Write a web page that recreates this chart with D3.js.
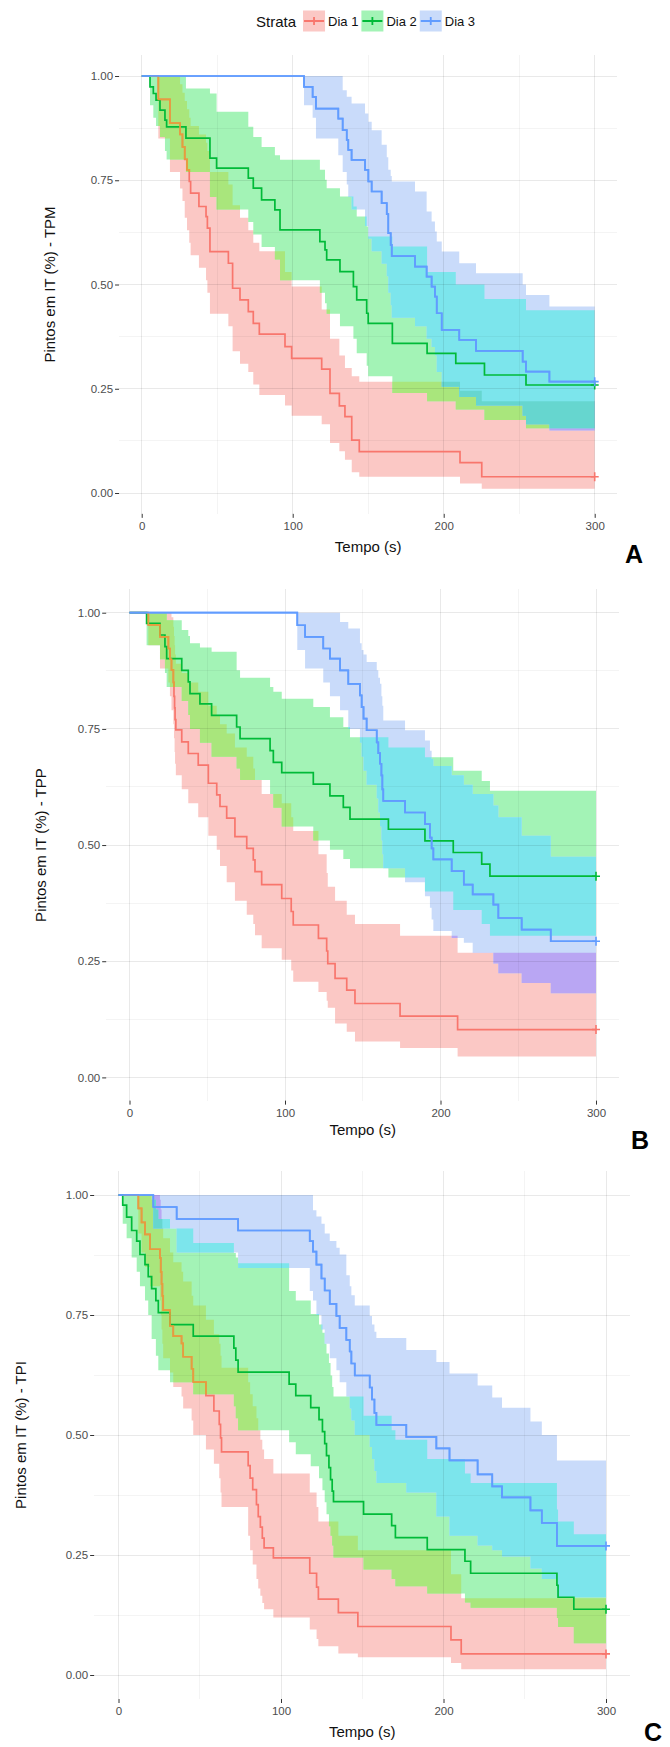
<!DOCTYPE html>
<html>
<head>
<meta charset="utf-8">
<script src="https://cdn.jsdelivr.net/npm/d3@7"></script>
<style>
  body { margin: 0; background: #fff; }
  svg { display: block; font-family: "Liberation Sans", Arial, sans-serif; }
</style>
</head>
<body>
<div id="chart"></div>
<script>
// ---- data ----
const strata = ["Dia 1", "Dia 2", "Dia 3"];
const xTicks = [0, 100, 200, 300];
const xMinor = [50, 150, 250];
const yTicks = [0, 0.25, 0.5, 0.75, 1];
const yMinor = [0.125, 0.375, 0.625, 0.875];

// panel A - TPM
const tpmDia1Time = [11.0, 18.7, 25.4, 27.0, 28.5, 30.0, 31.5, 32.4, 37.9, 42.6, 43.5, 45.2, 57.4, 60.2, 65.1, 70.6, 73.9, 77.9, 94.9, 99.3, 119.2, 124.7, 130.9, 134.6, 139.1, 144.1, 210.8, 225.2];
const tpmDia1Surv = [.944, .887, .860, .830, .800, .775, .747, .719, .687, .663, .635, .579, .551, .491, .463, .435, .407, .381, .351, .323, .297, .239, .209, .183, .127, .099, .073, .039];
const tpmDia1Lower = [.85, .77, .73, .70, .66, .63, .60, .57, .54, .51, .48, .43, .40, .34, .31, .29, .26, .235, .21, .185, .165, .12, .10, .08, .05, .039, .023, .01];
const tpmDia1Upper = [1, 1, .98, .96, .94, .92, .90, .88, .86, .84, .82, .77, .74, .69, .66, .63, .60, .58, .53, .495, .44, .37, .33, .30, .28, .267, .245, .22];

const tpmDia2Time = [5.5, 7.7, 9.5, 12.1, 15.4, 16.5, 29.3, 45.2, 49.6, 70.6, 73.9, 79.4, 88.2, 91.6, 118.0, 121.4, 122.5, 131.3, 140.2, 142.4, 149.0, 150.0, 166.0, 189.0, 208.0, 227.0, 254.5];
const tpmDia2Surv = [.974, .958, .942, .918, .894, .878, .851, .803, .779, .755, .731, .703, .679, .631, .603, .583, .559, .531, .495, .463, .431, .407, .359, .335, .311, .283, .259];
const tpmDia2Lower = [.93, .90, .88, .854, .82, .80, .77, .71, .68, .65, .62, .59, .56, .51, .48, .455, .43, .40, .37, .335, .305, .28, .24, .22, .20, .175, .155];
const tpmDia2Upper = [1, 1, 1, 1, 1, 1, .970, .958, .914, .878, .854, .830, .810, .799, .775, .751, .731, .711, .687, .663, .639, .615, .591, .530, .500, .465, .438];

const tpmDia3Time = [107.5, 113.2, 115.4, 130.2, 133.1, 135.8, 136.8, 139.0, 147.9, 150.1, 152.3, 158.9, 162.3, 163.3, 164.9, 165.6, 181.0, 188.7, 192.0, 194.2, 195.4, 198.7, 210.3, 221.4, 252.3, 254.5, 270.0];
const tpmDia3Surv = [.974, .950, .922, .898, .870, .847, .823, .799, .775, .747, .723, .695, .669, .623, .595, .568, .543, .519, .495, .471, .431, .391, .367, .341, .315, .291, .267];
const tpmDia3Lower = [.93, .90, .85, .81, .77, .74, .71, .68, .64, .61, .58, .55, .52, .48, .45, .42, .40, .37, .35, .33, .29, .255, .23, .21, .185, .165, .15];
const tpmDia3Upper = [1, 1, 1, 1, .966, .950, .950, .934, .910, .890, .870, .835, .805, .775, .760, .747, .723, .675, .651, .627, .603, .579, .551, .527, .500, .475, .447];

// panel B - TPP
const tppDia1Time = [12.1, 19.6, 25.0, 26.0, 27.0, 28.2, 28.6, 29.0, 29.3, 29.8, 33.6, 37.8, 44.2, 50.7, 56.1, 58.2, 62.5, 67.8, 75.4, 79.6, 80.7, 85.0, 97.9, 104.0, 105.3, 121.5, 126.8, 127.5, 132.2, 139.7, 145.0, 174.0, 211.0];
const tppDia1Surv = [.974, .948, .923, .900, .877, .850, .820, .795, .770, .748, .722, .697, .672, .633, .608, .583, .558, .518, .493, .468, .443, .415, .385, .357, .328, .299, .272, .245, .213, .188, .159, .132, .103];
const tppDia1Lower = [.93, .88, .85, .82, .79, .76, .73, .70, .675, .65, .62, .59, .56, .52, .49, .455, .42, .38, .35, .33, .306, .278, .253, .23, .206, .184, .165, .15, .116, .098, .077, .063, .045];
const tppDia1Upper = [1, 1, 1, 1, .99, .97, .95, .93, .91, .89, .87, .85, .83, .80, .78, .76, .74, .71, .69, .665, .64, .61, .59, .56, .53, .48, .44, .41, .38, .35, .33, .305, .268];

const tppDia2Time = [11.0, 19.6, 22.8, 23.9, 33.6, 37.8, 38.9, 45.3, 52.8, 68.9, 71.1, 90.4, 92.5, 97.9, 118.2, 128.9, 137.5, 141.8, 166.5, 190.0, 208.2, 226.5, 231.8];
const tppDia2Surv = [.977, .952, .927, .901, .876, .851, .826, .804, .779, .754, .729, .703, .678, .656, .631, .606, .581, .556, .534, .509, .484, .459, .433];
const tppDia2Lower = [.93, .90, .87, .84, .81, .78, .75, .72, .69, .665, .64, .61, .58, .54, .51, .49, .47, .45, .43, .40, .36, .33, .305];
const tppDia2Upper = [1, 1, 1, .984, .963, .950, .934, .925, .916, .876, .860, .840, .830, .815, .797, .775, .754, .732, .710, .689, .660, .638, .617];

const tppDia3Time = [107.9, 112.9, 124.6, 128.9, 135.4, 140.7, 148.2, 149.3, 150.5, 152.5, 159.0, 160.0, 161.1, 162.0, 162.6, 163.2, 177.2, 190.0, 193.2, 194.3, 195.4, 207.2, 215.0, 220.7, 234.0, 237.2, 252.2, 270.9];
const tppDia3Surv = [.973, .948, .923, .901, .876, .847, .822, .797, .772, .747, .721, .698, .675, .650, .620, .595, .570, .545, .516, .493, .469, .444, .415, .394, .372, .343, .318, .293];
const tppDia3Lower = [.92, .88, .85, .82, .79, .75, .72, .69, .66, .63, .60, .57, .54, .51, .48, .45, .42, .39, .365, .34, .315, .30, .29, .268, .245, .224, .203, .181];
const tppDia3Upper = [1, 1, 1, 1, .980, .966, .934, .920, .910, .894, .876, .860, .847, .820, .800, .768, .747, .725, .703, .685, .670, .650, .630, .610, .585, .560, .520, .475];

// panel C - TPI
const tpiDia1Time = [12.2, 14.2, 16.3, 19.4, 25.5, 26.0, 26.5, 27.0, 27.5, 31.7, 33.7, 38.8, 39.8, 45.0, 46.0, 53.8, 58.7, 62.0, 62.8, 63.4, 79.8, 81.0, 82.6, 84.9, 86.0, 87.3, 88.5, 89.6, 95.3, 117.7, 121.9, 123.0, 135.3, 147.3, 204.6, 210.9];
const tpiDia1Surv = [.972, .943, .918, .887, .869, .840, .815, .790, .760, .727, .706, .691, .663, .638, .610, .582, .550, .522, .494, .465, .436, .410, .386, .355, .330, .308, .285, .265, .244, .212, .183, .158, .130, .101, .073, .044];
const tpiDia1Lower = [.92, .88, .85, .81, .78, .75, .72, .69, .66, .63, .60, .58, .555, .53, .50, .47, .44, .41, .38, .35, .29, .26, .23, .20, .18, .165, .15, .137, .12, .095, .075, .06, .045, .037, .025, .012];
const tpiDia1Upper = [1, 1, 1, 1, .99, .97, .95, .93, .91, .88, .86, .84, .82, .79, .77, .74, .71, .69, .665, .64, .61, .585, .56, .535, .51, .49, .47, .45, .42, .38, .35, .32, .29, .26, .21, .16];

const tpiDia2Time = [2.6, 5.0, 8.1, 11.2, 13.2, 16.3, 18.3, 20.4, 23.0, 24.5, 31.7, 46.0, 71.0, 72.2, 73.6, 105.0, 109.1, 118.3, 123.4, 125.5, 126.9, 128.0, 129.5, 130.5, 131.5, 132.3, 150.8, 168.1, 170.4, 190.0, 213.2, 216.7, 269.8, 270.5, 280.2];
const tpiDia2Surv = [.979, .954, .926, .904, .876, .855, .830, .805, .780, .755, .730, .706, .681, .656, .631, .606, .582, .557, .532, .507, .482, .457, .432, .407, .383, .361, .335, .311, .286, .261, .237, .212, .187, .162, .137];
const tpiDia2Lower = [.94, .91, .87, .84, .81, .78, .75, .70, .665, .635, .61, .585, .56, .535, .51, .485, .46, .435, .41, .385, .36, .335, .31, .29, .27, .245, .22, .20, .185, .17, .151, .14, .119, .10, .066];
const tpiDia2Upper = [1, 1, 1, 1, 1, 1, 1, .99, .97, .95, .93, .90, .879, .87, .858, .80, .78, .752, .73, .713, .69, .67, .65, .624, .60, .58, .54, .51, .49, .45, .42, .40, .345, .32, .293];

const tpiDia3Time = [21.4, 35.8, 73.6, 117.7, 119.7, 121.8, 124.9, 126.9, 130.0, 134.1, 136.1, 140.2, 142.3, 143.3, 145.4, 154.6, 156.0, 157.5, 158.7, 177.1, 195.6, 203.7, 221.0, 230.0, 236.0, 253.5, 260.5, 269.8];
const tpiDia3Surv = [.975, .950, .926, .904, .882, .855, .826, .801, .773, .748, .723, .698, .674, .649, .624, .599, .574, .546, .521, .496, .472, .447, .418, .393, .370, .343, .317, .269];
const tpiDia3Lower = [.93, .88, .848, .80, .78, .75, .72, .69, .66, .635, .61, .58, .555, .53, .50, .475, .45, .425, .40, .38, .33, .29, .27, .26, .247, .222, .20, .162];
const tpiDia3Upper = [1, 1, 1, 1, .968, .955, .940, .920, .904, .890, .876, .833, .810, .791, .770, .748, .730, .715, .702, .677, .652, .628, .603, .578, .557, .528, .500, .447];

// ---- styles ----
const lineColors = ["#F8766D", "#00BA38", "#619CFF"];
const bandColors = ["#fbc8c5", "#a3f3b6", "#c9dbfa"];
const mixRG = "#a9e67c", mixRB = "#b9a6f3", mixGB = "#7ce5ec", mixRGB = "#66d6cf";
const underGreen = "#e3a13a";
const font = "Liberation Sans, Arial, sans-serif";

const panels = [
  { id: "A", ytitle: "Pintos em IT (%) - TPM", x0: 141.7, x300: 594.7, y1: 76, y0: 493,
    ytitleX: 50, xtitleY: 552, letter: [625, 563],
    series: [[tpmDia1Time, tpmDia1Surv, tpmDia1Lower, tpmDia1Upper],
             [tpmDia2Time, tpmDia2Surv, tpmDia2Lower, tpmDia2Upper],
             [tpmDia3Time, tpmDia3Surv, tpmDia3Lower, tpmDia3Upper]] },
  { id: "B", ytitle: "Pintos em IT (%) - TPP", x0: 129.5, x300: 596, y1: 612.7, y0: 1077.4,
    ytitleX: 41, xtitleY: 1135, letter: [631, 1149],
    series: [[tppDia1Time, tppDia1Surv, tppDia1Lower, tppDia1Upper],
             [tppDia2Time, tppDia2Surv, tppDia2Lower, tppDia2Upper],
             [tppDia3Time, tppDia3Surv, tppDia3Lower, tppDia3Upper]] },
  { id: "C", ytitle: "Pintos em IT (%) - TPI", x0: 118.5, x300: 606, y1: 1195, y0: 1675,
    ytitleX: 21, xtitleY: 1737, letter: [644, 1741],
    series: [[tpiDia1Time, tpiDia1Surv, tpiDia1Lower, tpiDia1Upper],
             [tpiDia2Time, tpiDia2Surv, tpiDia2Lower, tpiDia2Upper],
             [tpiDia3Time, tpiDia3Surv, tpiDia3Lower, tpiDia3Upper]] }
];

const svg = d3.select("#chart").append("svg")
  .attr("width", 670).attr("height", 1747);
svg.append("rect").attr("width", 670).attr("height", 1747).attr("fill", "#fff");
const defs = svg.append("defs");

function drawPanel(p) {
  const sx = (p.x300 - p.x0) / 300, sy = p.y0 - p.y1;
  const x = d3.scaleLinear().domain([-15, 315]).range([p.x0 - 15 * sx, p.x300 + 15 * sx]);
  const y = d3.scaleLinear().domain([-0.05, 1.05]).range([p.y0 + 0.05 * sy, p.y1 - 0.05 * sy]);
  const [L, R] = x.range();
  const [B, T] = y.range();
  const g = svg.append("g");

  // step curves starting at (0, 1), carried to t = 300
  const curves = p.series.map(([time, surv, lower, upper]) => {
    const pts = [{ t: 0, s: 1, lo: 1, hi: 1 }];
    time.forEach((t, i) => pts.push({ t, s: surv[i], lo: lower[i], hi: upper[i] }));
    const last = pts[pts.length - 1];
    pts.push({ t: 300, s: last.s, lo: last.lo, hi: last.hi });
    return pts;
  });

  const area = d3.area().curve(d3.curveStepAfter)
    .x(d => x(d.t)).y0(d => y(d.lo)).y1(d => y(d.hi));
  const line = d3.line().curve(d3.curveStepAfter)
    .x(d => x(d.t)).y(d => y(d.s));

  curves.forEach((c, i) => {
    defs.append("clipPath").attr("id", `band${p.id}${i}`)
      .append("path").attr("d", area(c));
  });

  // confidence bands and their overlaps
  curves.forEach((c, i) => g.append("path").attr("d", area(c)).attr("fill", bandColors[i]));
  g.append("path").attr("d", area(curves[1])).attr("fill", mixRG).attr("clip-path", `url(#band${p.id}0)`);
  g.append("path").attr("d", area(curves[2])).attr("fill", mixRB).attr("clip-path", `url(#band${p.id}0)`);
  g.append("path").attr("d", area(curves[2])).attr("fill", mixGB).attr("clip-path", `url(#band${p.id}1)`);
  g.append("g").attr("clip-path", `url(#band${p.id}0)`)
    .append("path").attr("d", area(curves[2])).attr("fill", mixRGB).attr("clip-path", `url(#band${p.id}1)`);

  // grid (translucent, so it shows through the bands)
  const grid = g.append("g").attr("stroke-width", 1).attr("shape-rendering", "crispEdges");
  grid.selectAll(".vmin").data(xMinor).join("line")
    .attr("x1", d => x(d)).attr("x2", d => x(d)).attr("y1", T).attr("y2", B)
    .attr("stroke", "rgba(0,0,0,0.045)");
  grid.selectAll(".vmaj").data(xTicks).join("line")
    .attr("x1", d => x(d)).attr("x2", d => x(d)).attr("y1", T).attr("y2", B)
    .attr("stroke", "rgba(0,0,0,0.085)");
  grid.selectAll(".hmin").data(yMinor).join("line")
    .attr("y1", d => y(d)).attr("y2", d => y(d)).attr("x1", L).attr("x2", R)
    .attr("stroke", "rgba(0,0,0,0.045)");
  grid.selectAll(".hmaj").data(yTicks).join("line")
    .attr("y1", d => y(d)).attr("y2", d => y(d)).attr("x1", L).attr("x2", R)
    .attr("stroke", "rgba(0,0,0,0.085)");

  // survival lines
  curves.forEach((c, i) => {
    g.append("path").attr("d", line(c)).attr("fill", "none")
      .attr("stroke", lineColors[i]).attr("stroke-width", 1.7);
  });
  // red line seen through the green band
  g.append("path").attr("d", line(curves[0])).attr("fill", "none")
    .attr("stroke", underGreen).attr("stroke-width", 1.7)
    .attr("clip-path", `url(#band${p.id}1)`);
  g.append("path").attr("d", line(curves[2])).attr("fill", "none")
    .attr("stroke", lineColors[2]).attr("stroke-width", 1.7);

  // censor marks at the end
  curves.forEach((c, i) => {
    const last = c[c.length - 1];
    g.append("path")
      .attr("transform", `translate(${x(last.t)},${y(last.s)})`)
      .attr("d", "M-4,0H4M0,-4.5V4.5")
      .attr("stroke", lineColors[i]).attr("stroke-width", 1.6).attr("fill", "none");
  });

  // axes
  const ax = g.append("g").attr("transform", `translate(0,${B})`)
    .call(d3.axisBottom(x).tickValues(xTicks).tickSize(4).tickPadding(4));
  const ay = g.append("g").attr("transform", `translate(${L},0)`)
    .call(d3.axisLeft(y).tickValues(yTicks).tickFormat(d3.format(".2f")).tickSize(4).tickPadding(2));
  [ax, ay].forEach(a => {
    a.attr("font-family", font).attr("font-size", 11.5);
    a.select(".domain").remove();
    a.selectAll("line").attr("stroke", "#333");
    a.selectAll("text").attr("fill", "#4d4d4d");
  });

  g.append("text").attr("x", (L + R) / 2).attr("y", p.xtitleY)
    .attr("text-anchor", "middle").attr("font-size", 15).attr("fill", "#111")
    .text("Tempo (s)");
  g.append("text")
    .attr("transform", `translate(${p.ytitleX},${(T + B) / 2}) rotate(-90)`)
    .attr("text-anchor", "middle").attr("dy", "0.35em")
    .attr("font-size", 15).attr("fill", "#111").text(p.ytitle);
  g.append("text").attr("x", p.letter[0]).attr("y", p.letter[1])
    .attr("font-size", 25).attr("font-weight", "bold").attr("fill", "#000").text(p.id);
}

panels.forEach(drawPanel);

// legend
const leg = svg.append("g").attr("font-family", font);
let lx = 256;
const ly = 21;
const title = leg.append("text").attr("x", lx).attr("y", ly + 5.5)
  .attr("font-size", 15).attr("fill", "#111").text("Strata");
lx += title.node().getComputedTextLength() + 7;
strata.forEach((name, i) => {
  const k = leg.append("g").attr("transform", `translate(${lx},${ly - 10.5})`);
  k.append("rect").attr("width", 22).attr("height", 21).attr("fill", bandColors[i]);
  k.append("path").attr("d", "M1,10.5H21M11,6.5V14.5")
    .attr("stroke", lineColors[i]).attr("stroke-width", 1.8);
  lx += 25;
  const t = leg.append("text").attr("x", lx).attr("y", ly + 4.5)
    .attr("font-size", 13).attr("fill", "#111").text(name);
  lx += t.node().getComputedTextLength() + 3;
});
</script>
</body>
</html>
